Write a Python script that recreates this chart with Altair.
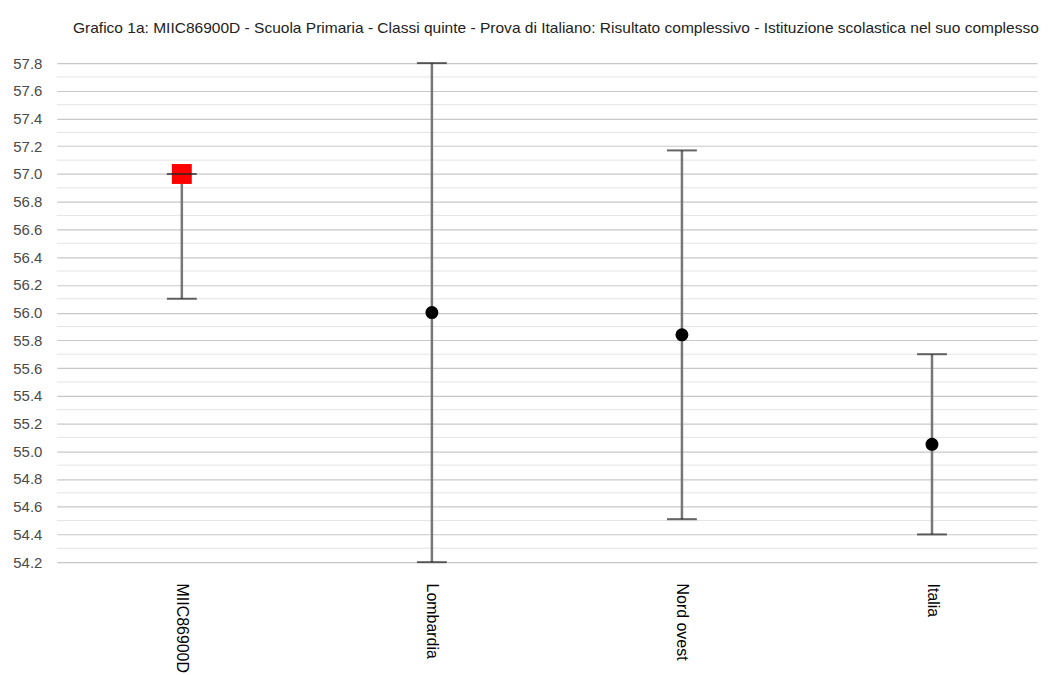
import altair as alt
import pandas as pd

categories = ["MIIC86900D", "Lombardia", "Nord ovest", "Italia"]
values = [57.0, 56.0, 55.84, 55.05]
lower = [56.1, 54.2, 54.51, 54.40]
upper = [57.0, 57.8, 57.17, 55.70]
kinds = ["scuola", "rif", "rif", "rif"]

major_ticks = [54.2, 54.4, 54.6, 54.8, 55.0, 55.2, 55.4, 55.6, 55.8, 56.0,
               56.2, 56.4, 56.6, 56.8, 57.0, 57.2, 57.4, 57.6, 57.8]
minor_ticks = [54.3, 54.5, 54.7, 54.9, 55.1, 55.3, 55.5, 55.7, 55.9, 56.1,
               56.3, 56.5, 56.7, 56.9, 57.1, 57.3, 57.5, 57.7]
x_positions = [0, 1, 2, 3]

title_text = ("Grafico 1a: MIIC86900D - Scuola Primaria - Classi quinte - Prova di Italiano: "
              "Risultato complessivo - Istituzione scolastica nel suo complesso")

df = pd.DataFrame({"cat": categories, "idx": x_positions, "val": values,
                   "lo": lower, "hi": upper, "kind": kinds})
minor_df = pd.DataFrame({"v": minor_ticks})

yscale = alt.Scale(domain=[54.2, 57.8], nice=False, zero=False)
yaxis = alt.Axis(title=None, values=major_ticks, format=".1f", labelFont="Liberation Sans",
                 labelFontSize=15, labelColor="#4a4a4a", ticks=False, domain=False,
                 labelPadding=15, grid=True, gridColor="#c8c8c8", gridWidth=1.2)

label_expr = "[" + ",".join("'" + c + "'" for c in categories) + "][datum.value]"
xscale = alt.Scale(domain=[-0.5, 3.42], nice=False, zero=False)
xaxis = alt.Axis(title=None, values=x_positions, labelExpr=label_expr, labelAngle=90,
                 labelAlign="left", labelBaseline="middle",
                 labelFont="Liberation Sans", labelFontSize=16, labelColor="black",
                 ticks=False, domain=False, labelPadding=21, grid=False)

X = alt.X("idx:Q", scale=xscale, axis=xaxis)

minor = alt.Chart(minor_df).mark_rule(color="#e4e4e4", strokeWidth=1).encode(
    y=alt.Y("v:Q", scale=yscale, axis=yaxis)
)

bars = alt.Chart(df).mark_rule(color="#777777", strokeWidth=2.5).encode(
    x=X, y=alt.Y("lo:Q", scale=yscale, axis=yaxis), y2="hi:Q"
)
cap_lo = alt.Chart(df).mark_tick(color="#222222", thickness=2, size=30, orient="horizontal").encode(
    x=X, y=alt.Y("lo:Q", scale=yscale, axis=yaxis)
)
cap_hi = alt.Chart(df).mark_tick(color="#222222", thickness=2, size=30, orient="horizontal").encode(
    x=X, y=alt.Y("hi:Q", scale=yscale, axis=yaxis)
)
pts_ref = alt.Chart(df).transform_filter(alt.datum.kind == "rif").mark_point(
    shape="circle", filled=True, color="black", size=170, opacity=1
).encode(x=X, y=alt.Y("val:Q", scale=yscale, axis=yaxis))
pts_school = alt.Chart(df).transform_filter(alt.datum.kind == "scuola").mark_point(
    shape="square", filled=True, color="#ff0000", size=400, opacity=1
).encode(x=X, y=alt.Y("val:Q", scale=yscale, axis=yaxis))

chart = alt.layer(minor, bars, pts_school, cap_lo, cap_hi, pts_ref).properties(
    width=984, height=501,
    title=alt.TitleParams(title_text, font="Liberation Sans", fontSize=15.6,
                          fontWeight="normal", color="#222222", anchor="middle", dx=9, offset=20),
    padding={"left": 4, "top": 11, "right": 0, "bottom": 5},
).configure_view(stroke=None)

chart.save("out.html", embed_options={"renderer": "svg", "actions": False})
